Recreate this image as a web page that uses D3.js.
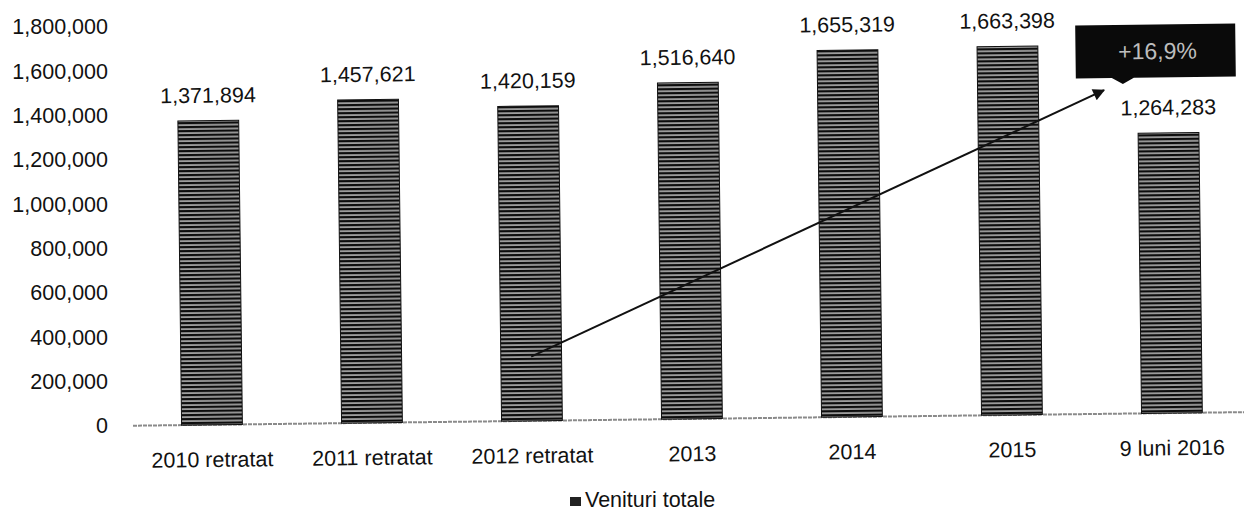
<!DOCTYPE html>
<html>
<head>
<meta charset="utf-8">
<script src="https://cdn.jsdelivr.net/npm/d3@7"></script>
<style>
  html, body { margin: 0; padding: 0; background: #fff; }
  svg { display: block; font-family: "Liberation Sans", Arial, sans-serif; }
</style>
</head>
<body>
<svg id="chart" width="1244" height="515"></svg>
<script>
const categories = ["2010 retratat", "2011 retratat", "2012 retratat", "2013", "2014", "2015", "9 luni 2016"];
const venituriTotale = [1371894, 1457621, 1420159, 1516640, 1655319, 1663398, 1264283];
const yTicks = [0, 200000, 400000, 600000, 800000, 1000000, 1200000, 1400000, 1600000, 1800000];
const seriesName = "Venituri totale";
const growthLabel = "+16,9%";
// trend arrow: from category index / value to category index (+fraction) / value
const arrowFrom = { cat: "2012 retratat", offset: 0, value: 290000 };
const arrowTo = { cat: "2015", offset: 0.6, value: 1460000 };

const W = 1244, H = 515;
const svg = d3.select("#chart");

const y = d3.scaleLinear().domain([0, 1800000]).range([426, 27]);
const x = d3.scaleBand().domain(categories).range([132, 1252]).paddingInner(0.62).paddingOuter(0.31);
const fmt = d3.format(",");
const FS = 21.5;

const defs = svg.append("defs");
const pat = defs.append("pattern").attr("id", "stripes").attr("patternUnits", "userSpaceOnUse")
  .attr("width", 8).attr("height", 4);
pat.append("rect").attr("width", 8).attr("height", 4).attr("fill", "#0d0d0d");
pat.append("rect").attr("y", 1.5).attr("width", 8).attr("height", 1.1).attr("fill", "#fff");

defs.append("marker").attr("id", "arrowhead").attr("viewBox", "0 0 10 10")
  .attr("refX", 9).attr("refY", 5).attr("markerWidth", 7).attr("markerHeight", 6)
  .attr("markerUnits", "strokeWidth").attr("orient", "auto")
  .append("path").attr("d", "M0,0 L10,5 L0,10 Z").attr("fill", "#111");

// y tick labels (no axis line)
const yAxis = d3.axisLeft(y).tickValues(yTicks).tickFormat(fmt).tickSize(0).tickPadding(0);
const gy = svg.append("g").attr("transform", "translate(108,0)").call(yAxis);
gy.select(".domain").remove();
gy.selectAll("text").attr("font-size", FS).attr("fill", "#111")
  .attr("font-family", "\"Liberation Sans\", Arial, sans-serif");

// plot group (slightly tilted like the scanned original)
const plot = svg.append("g").attr("transform", "rotate(-0.7,110,426)");

plot.append("line").attr("x1", 133).attr("x2", 1250).attr("y1", y(0)).attr("y2", y(0))
  .attr("stroke", "#8a8a8a").attr("stroke-width", 2).attr("stroke-dasharray", "4,1");

plot.selectAll("rect.bar").data(venituriTotale).join("rect").attr("class", "bar")
  .attr("x", (d, i) => x(categories[i]))
  .attr("width", x.bandwidth())
  .attr("y", d => y(d))
  .attr("height", d => y(0) - y(d))
  .attr("fill", "url(#stripes)")
  .attr("stroke", "#111").attr("stroke-width", 1);

plot.selectAll("text.val").data(venituriTotale).join("text").attr("class", "val")
  .attr("x", (d, i) => x(categories[i]) + x.bandwidth() / 2)
  .attr("y", d => y(d) - 18)
  .attr("text-anchor", "middle").attr("font-size", FS).attr("fill", "#111")
  .text(d => fmt(d));

const gx = plot.append("g").attr("transform", `translate(0,${y(0)})`)
  .call(d3.axisBottom(x).tickSize(0).tickPadding(27));
gx.select(".domain").remove();
gx.selectAll("text").attr("font-size", FS).attr("fill", "#111")
  .attr("font-family", "\"Liberation Sans\", Arial, sans-serif");

// trend arrow
const ax1 = x(arrowFrom.cat) + x.bandwidth() / 2 + arrowFrom.offset * x.step();
const ay1 = y(arrowFrom.value);
const ax2 = x(arrowTo.cat) + x.bandwidth() / 2 + arrowTo.offset * x.step();
const ay2 = y(arrowTo.value);
plot.append("line").attr("x1", ax1).attr("y1", ay1).attr("x2", ax2).attr("y2", ay2)
  .attr("stroke", "#111").attr("stroke-width", 2).attr("marker-end", "url(#arrowhead)");

// growth callout box
const bx = ax2 - 28, bw = 160, by = y(arrowTo.value) - 65, bh = 53;
plot.append("path")
  .attr("d", `M${bx},${by} h${bw} v${bh} h${-(bw - 58)} l-11,6 l-11,-6 h${-36} Z`)
  .attr("fill", "#0a0a0a");
plot.append("text").attr("x", bx + bw / 2 + 2).attr("y", by + bh / 2 + 8)
  .attr("text-anchor", "middle").attr("font-size", 23).attr("fill", "#bdbdbd")
  .text(growthLabel);

// legend
const leg = svg.append("g").attr("transform", "translate(570,507)");
leg.append("rect").attr("x", 0).attr("y", -10).attr("width", 11).attr("height", 9).attr("fill", "#222");
leg.append("text").attr("x", 15).attr("y", 0).attr("font-size", FS).attr("fill", "#111").text(seriesName);
</script>
</body>
</html>
